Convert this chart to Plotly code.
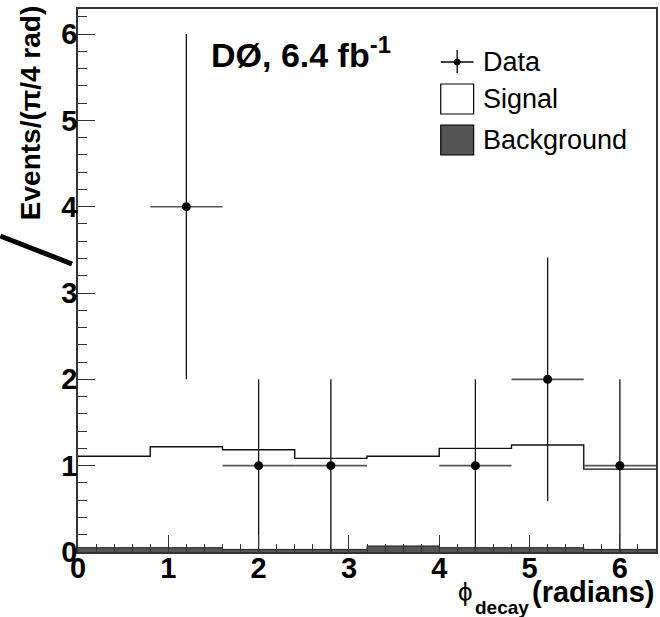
import numpy as np
import plotly.graph_objects as go

# ---- data ----
bin_lo, bin_hi, n_bins = 0.0, 6.4, 8
signal = [1.06, 1.17, 1.155, 1.055, 1.04, 1.15, 1.19, 0.93]
background = [0.05, 0.05, 0.03, 0.03, 0.07, 0.05, 0.05, 0.03]
data_x = [1.2, 2.0, 2.8, 4.4, 5.2, 6.0]
data_y = [4, 1, 1, 1, 2, 1]
data_err = [2.0, 1.0, 1.0, 1.0, 1.41, 1.0]
x_ticks = [0, 1, 2, 3, 4, 5, 6]
y_ticks = [0, 1, 2, 3, 4, 5, 6]

edges = np.linspace(bin_lo, bin_hi, n_bins + 1)
bw = edges[1] - edges[0]
bg = np.array(background)
tot = bg + np.array(signal)

W, H = 660, 617
L, R, T, B = 78, 2, 9, 65
PW, PH = W - L - R, H - T - B
YMAX = 6.29

def px(x):
    return (x - L) / PW

def py(y):
    return (H - B - y) / PH

FONT = "Liberation Sans, Arial, sans-serif"

fig = go.Figure()

# background (filled step)
fig.add_trace(go.Scatter(
    x=edges, y=np.append(bg, bg[-1]), mode="lines", line_shape="hv",
    line=dict(color="#222", width=1), fill="tozeroy", fillcolor="#555555",
    showlegend=False, hoverinfo="skip"))

# signal stacked on background (outline)
fig.add_trace(go.Scatter(
    x=edges, y=np.append(tot, tot[-1]), mode="lines", line_shape="hv",
    line=dict(color="#111", width=1.4), showlegend=False, hoverinfo="skip"))

# data
fig.add_trace(go.Scatter(
    x=data_x, y=data_y, mode="markers",
    marker=dict(color="black", size=9),
    error_y=dict(type="data", array=data_err, color="#111", thickness=1.3, width=0),
    error_x=dict(type="constant", value=bw / 2, color="#555", thickness=1.6, width=0),
    showlegend=False, hoverinfo="skip"))

axcommon = dict(
    showgrid=False, zeroline=False, showline=True, linecolor="#333", linewidth=1.5,
    mirror=True, ticks="inside", ticklen=17, tickwidth=1.2, tickcolor="#333",
    tickfont=dict(family=FONT, size=29, color="black", weight="bold"),
)
fig.update_xaxes(range=[bin_lo, bin_hi], tickvals=x_ticks, ticklabelstandoff=-11,
                 minor=dict(dtick=0.2, tick0=0, ticks="inside", ticklen=8, tickcolor="#333", tickwidth=1.2),
                 **axcommon)
fig.update_yaxes(range=[0, YMAX], tickvals=y_ticks, ticklabelstandoff=-7,
                 minor=dict(dtick=0.2, tick0=0, ticks="inside", ticklen=9, tickcolor="#333", tickwidth=1.2),
                 **axcommon)

anns = []
shapes = []

# y-axis title
anns.append(dict(x=px(31), y=py(4), xref="paper", yref="paper", text="Events/(π/4 rad)",
                 textangle=-90, showarrow=False, xanchor="center", yanchor="top",
                 font=dict(family=FONT, size=28, color="black", weight="bold")))
# x-axis title
anns.append(dict(x=px(658), y=py(592), xref="paper", yref="paper", text="(radians)",
                 showarrow=False, xanchor="right", yanchor="middle",
                 font=dict(family=FONT, size=29, color="black", weight="bold")))
anns.append(dict(x=px(467), y=py(592), xref="paper", yref="paper", text="ϕ",
                 showarrow=False, xanchor="center", yanchor="middle",
                 font=dict(family=FONT, size=26, color="black")))
anns.append(dict(x=px(503), y=py(607), xref="paper", yref="paper", text="decay",
                 showarrow=False, xanchor="center", yanchor="middle",
                 font=dict(family=FONT, size=19, color="black", weight="bold")))

# experiment label
anns.append(dict(x=px(209), y=py(52), xref="paper", yref="paper", text="DØ, 6.4 fb<sup>-1</sup>",
                 showarrow=False, xanchor="left", yanchor="middle",
                 font=dict(family=FONT, size=34, color="black", weight="bold")))

# legend (manual)
lx0, lx1 = 442, 475
for label, yc in [("Data", 62), ("Signal", 99), ("Background", 140)]:
    anns.append(dict(x=px(482), y=py(yc), xref="paper", yref="paper", text=label,
                     showarrow=False, xanchor="left", yanchor="middle",
                     font=dict(family=FONT, size=27, color="black")))
shapes.append(dict(type="line", xref="paper", yref="paper", x0=px(lx0), x1=px(lx1), y0=py(62), y1=py(62),
                   line=dict(color="black", width=1.3)))
shapes.append(dict(type="line", xref="paper", yref="paper", x0=px(458.5), x1=px(458.5), y0=py(50), y1=py(73),
                   line=dict(color="black", width=1.3)))
shapes.append(dict(type="circle", xref="paper", yref="paper", x0=px(455.5), x1=px(461.5), y0=py(59), y1=py(65),
                   fillcolor="black", line=dict(color="black", width=1)))
shapes.append(dict(type="rect", xref="paper", yref="paper", x0=px(lx0), x1=px(lx1), y0=py(84), y1=py(114),
                   fillcolor="white", line=dict(color="black", width=1.2)))
shapes.append(dict(type="rect", xref="paper", yref="paper", x0=px(lx0), x1=px(lx1), y0=py(125), y1=py(155),
                   fillcolor="#555555", line=dict(color="black", width=1.2)))
# stray diagonal stroke at left edge of the image
shapes.append(dict(type="line", xref="paper", yref="paper", x0=px(0), x1=px(72), y0=py(236), y1=py(264),
                   line=dict(color="black", width=5)))

fig.update_layout(
    width=W, height=H, margin=dict(l=L, r=R, t=T, b=B),
    paper_bgcolor="white", plot_bgcolor="white",
    showlegend=False, annotations=anns, shapes=shapes,
)

fig.write_html("out.html")
